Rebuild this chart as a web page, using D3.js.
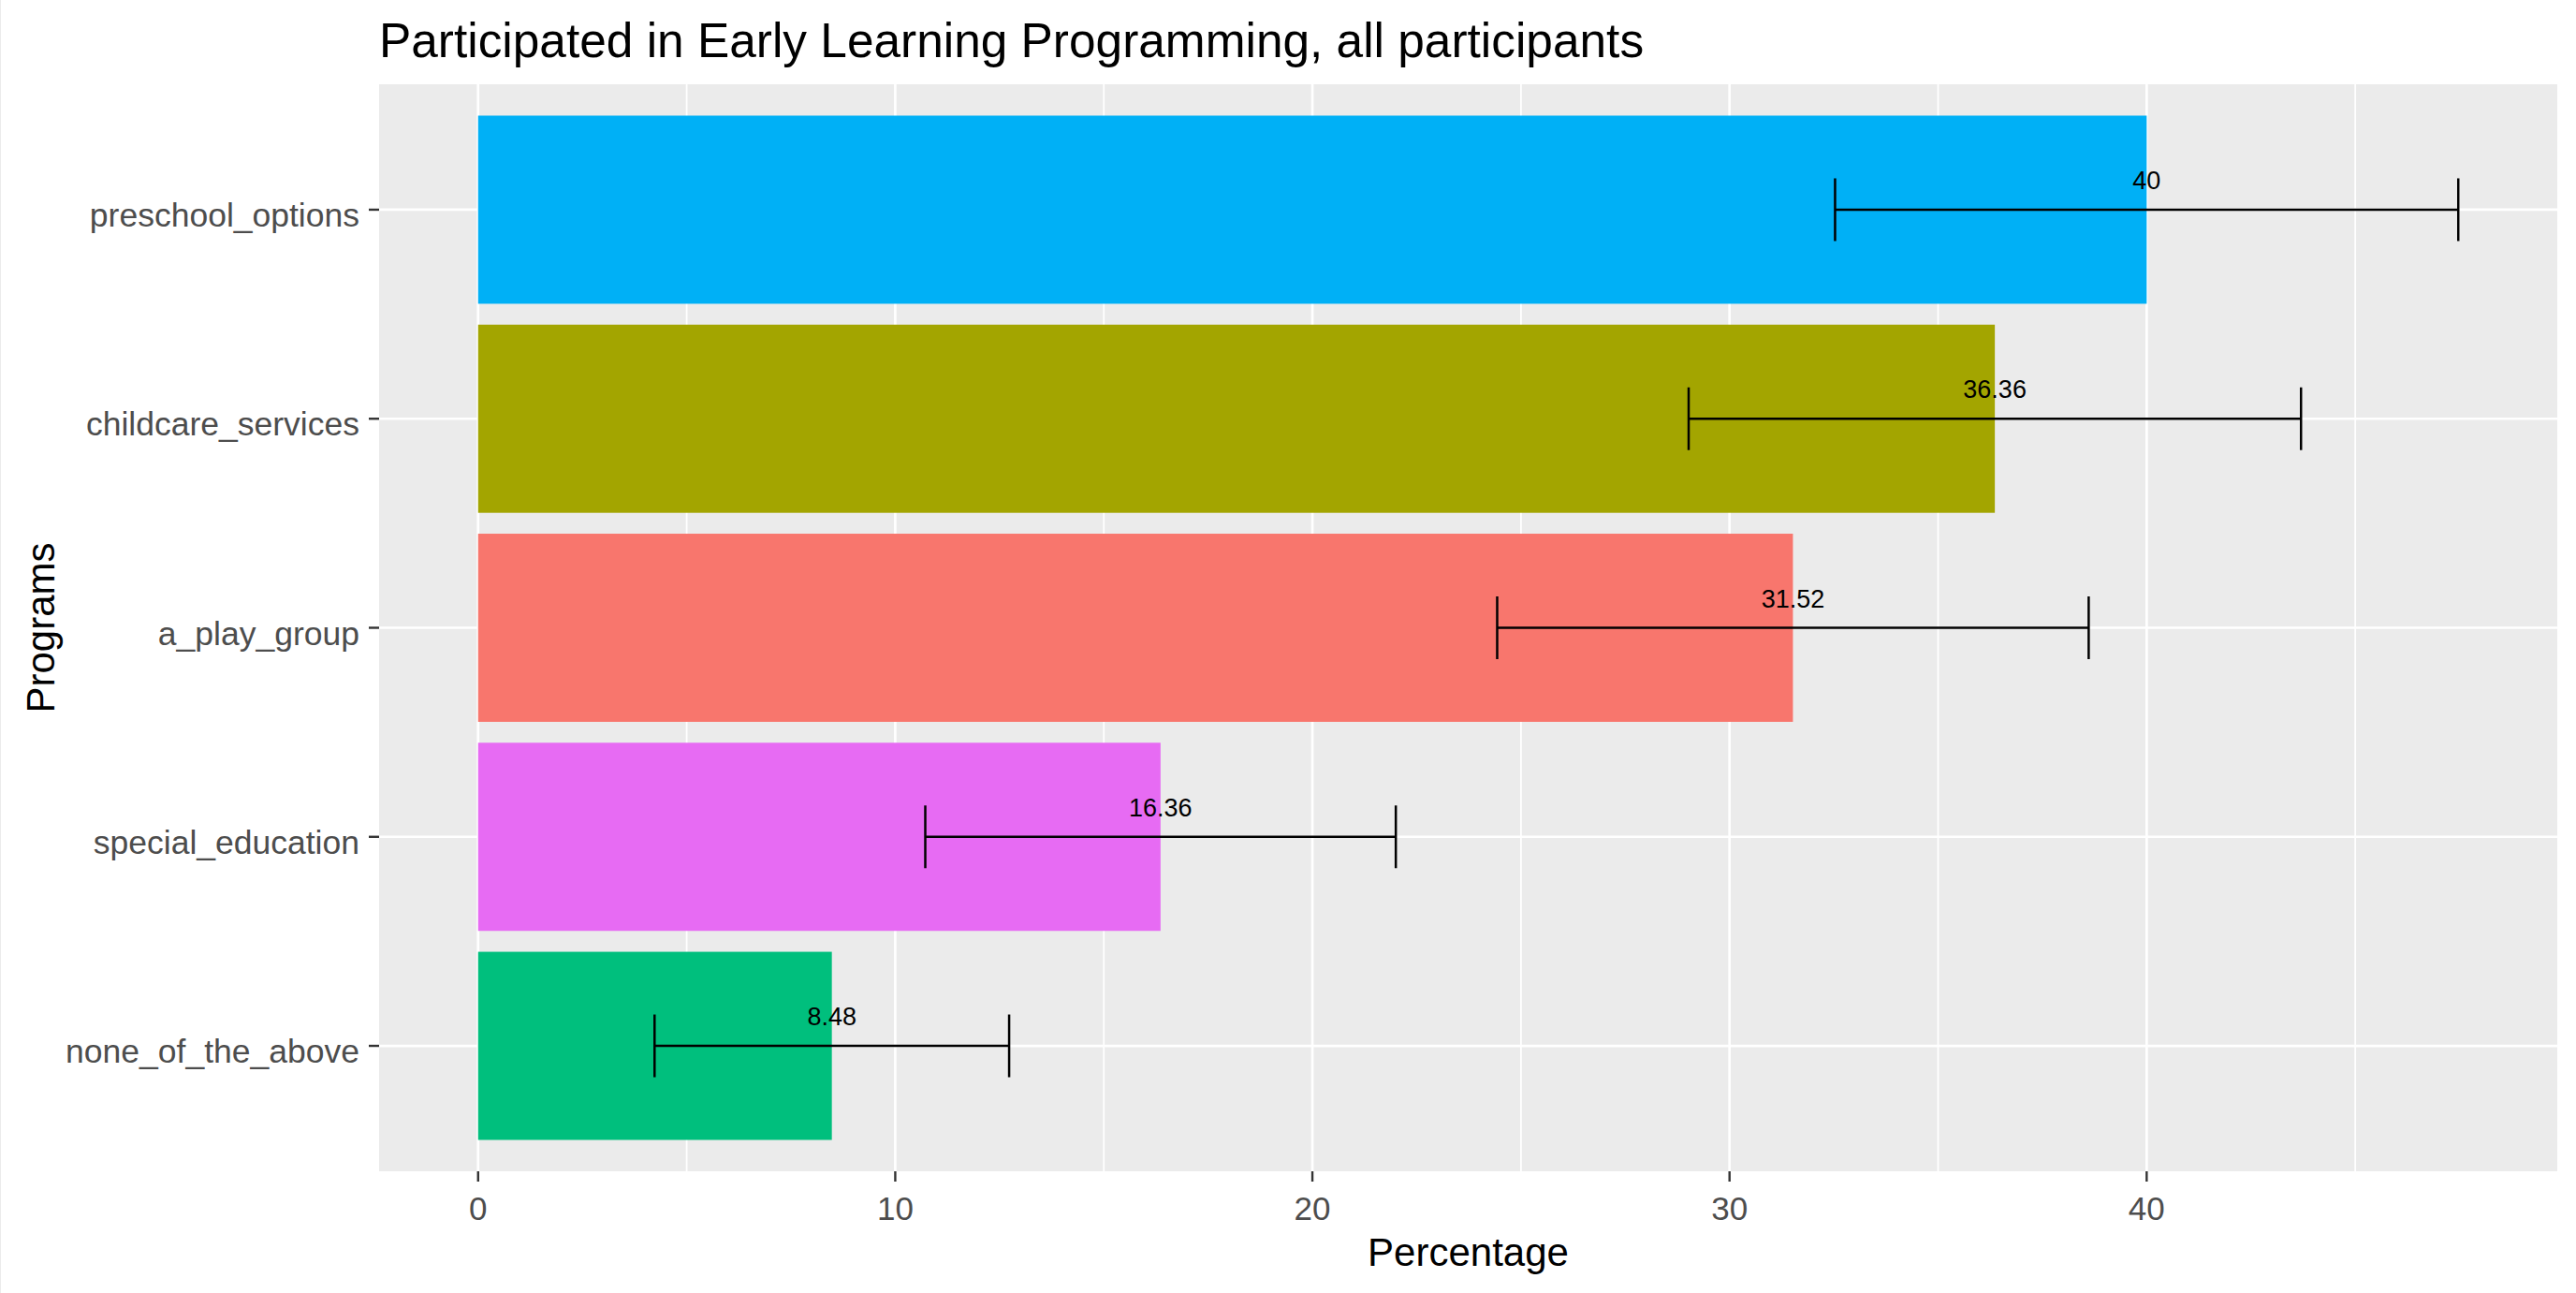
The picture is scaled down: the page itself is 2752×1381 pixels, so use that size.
<!DOCTYPE html>
<html>
<head>
<meta charset="utf-8">
<script src="https://cdn.jsdelivr.net/npm/d3@7"></script>
<style>
  html, body { margin: 0; padding: 0; background: #ffffff; }
  svg { display: block; }
  text { font-family: "Liberation Sans", Arial, sans-serif; }
</style>
</head>
<body>
<svg id="chart" width="2752" height="1381"></svg>
<script>
// ---- data ----
const categories = ["preschool_options", "childcare_services", "a_play_group", "special_education", "none_of_the_above"];
const percentages = [40, 36.36, 31.52, 16.36, 8.48];
const lowerCI = [32.53, 29.02, 24.43, 10.72, 4.23];
const upperCI = [47.47, 43.70, 38.61, 22.00, 12.73];
const labels = ["40", "36.36", "31.52", "16.36", "8.48"];
const barColors = ["#00B0F6", "#A3A500", "#F8766D", "#E76BF3", "#00BF7D"];
const majorTicks = [0, 10, 20, 30, 40];
const minorTicks = [5, 15, 25, 35, 45];
const titleText = "Participated in Early Learning Programming, all participants";
const xTitle = "Percentage";
const yTitle = "Programs";

// ---- layout ----
const W = 2752, H = 1381;
const panel = { left: 405, right: 2732, top: 90, bottom: 1251 };

const svg = d3.select("#chart");
svg.append("rect").attr("x", 0).attr("y", 0).attr("width", W).attr("height", H).attr("fill", "#ffffff");
svg.append("line").attr("x1", 0.5).attr("x2", 0.5).attr("y1", 0).attr("y2", H)
  .attr("stroke", "#ebebeb").attr("stroke-width", 1);

const xmax = d3.max(upperCI);
const xmin = 0;
const expand = (xmax - xmin) * 0.05;
const x = d3.scaleLinear().domain([xmin - expand, xmax + expand]).range([panel.left, panel.right]);
const y = d3.scaleBand().domain(categories).range([panel.top, panel.bottom]).paddingInner(0.1).paddingOuter(0.15);
const step = y.step();
const yc = c => y(c) + y.bandwidth() / 2;

// panel background
svg.append("rect").attr("x", panel.left).attr("y", panel.top)
  .attr("width", panel.right - panel.left).attr("height", panel.bottom - panel.top)
  .attr("fill", "#ebebeb");

const grid = svg.append("g");
grid.selectAll("line.minor").data(minorTicks).enter().append("line")
  .attr("x1", d => x(d)).attr("x2", d => x(d))
  .attr("y1", panel.top).attr("y2", panel.bottom)
  .attr("stroke", "#ffffff").attr("stroke-width", 1.8);
grid.selectAll("line.majorx").data(majorTicks).enter().append("line")
  .attr("x1", d => x(d)).attr("x2", d => x(d))
  .attr("y1", panel.top).attr("y2", panel.bottom)
  .attr("stroke", "#ffffff").attr("stroke-width", 2.7);
grid.selectAll("line.majory").data(categories).enter().append("line")
  .attr("x1", panel.left).attr("x2", panel.right)
  .attr("y1", d => yc(d)).attr("y2", d => yc(d))
  .attr("stroke", "#ffffff").attr("stroke-width", 2.7);

// bars
svg.append("g").selectAll("rect").data(categories).enter().append("rect")
  .attr("x", x(0))
  .attr("y", d => y(d))
  .attr("width", (d, i) => x(percentages[i]) - x(0))
  .attr("height", y.bandwidth())
  .attr("fill", (d, i) => barColors[i]);

// error bars
const eb = svg.append("g").attr("stroke", "#000000").attr("stroke-width", 2.5).attr("fill", "none");
const capH = step * 0.3;
categories.forEach((c, i) => {
  const cy = yc(c);
  eb.append("line").attr("x1", x(lowerCI[i])).attr("x2", x(upperCI[i])).attr("y1", cy).attr("y2", cy);
  eb.append("line").attr("x1", x(lowerCI[i])).attr("x2", x(lowerCI[i])).attr("y1", cy - capH / 2).attr("y2", cy + capH / 2);
  eb.append("line").attr("x1", x(upperCI[i])).attr("x2", x(upperCI[i])).attr("y1", cy - capH / 2).attr("y2", cy + capH / 2);
});

// value labels
svg.append("g").selectAll("text").data(categories).enter().append("text")
  .attr("x", (d, i) => x(percentages[i]))
  .attr("y", d => yc(d) - 0.098 * step)
  .attr("text-anchor", "middle")
  .attr("font-size", 27)
  .attr("fill", "#000000")
  .text((d, i) => labels[i]);

// x axis
const xAxis = svg.append("g");
xAxis.selectAll("line").data(majorTicks).enter().append("line")
  .attr("x1", d => x(d)).attr("x2", d => x(d))
  .attr("y1", panel.bottom).attr("y2", panel.bottom + 11)
  .attr("stroke", "#333333").attr("stroke-width", 2.4);
xAxis.selectAll("text").data(majorTicks).enter().append("text")
  .attr("x", d => x(d)).attr("y", panel.bottom + 52)
  .attr("text-anchor", "middle").attr("font-size", 35).attr("fill", "#4d4d4d")
  .text(d => d);

// y axis
const yAxis = svg.append("g");
yAxis.selectAll("line").data(categories).enter().append("line")
  .attr("x1", panel.left - 11).attr("x2", panel.left)
  .attr("y1", d => yc(d)).attr("y2", d => yc(d))
  .attr("stroke", "#333333").attr("stroke-width", 2.4);
yAxis.selectAll("text").data(categories).enter().append("text")
  .attr("x", 384).attr("y", d => yc(d) + 18)
  .attr("text-anchor", "end").attr("font-size", 35.5).attr("fill", "#4d4d4d")
  .text(d => d);

// titles
svg.append("text").attr("x", 405).attr("y", 61)
  .attr("font-size", 51.4).attr("fill", "#000000").text(titleText);
svg.append("text").attr("x", (panel.left + panel.right) / 2).attr("y", 1352)
  .attr("text-anchor", "middle").attr("font-size", 42).attr("fill", "#000000").text(xTitle);
svg.append("text").attr("transform", `translate(58, ${(panel.top + panel.bottom) / 2}) rotate(-90)`)
  .attr("text-anchor", "middle").attr("font-size", 42).attr("fill", "#000000").text(yTitle);
</script>
</body>
</html>
